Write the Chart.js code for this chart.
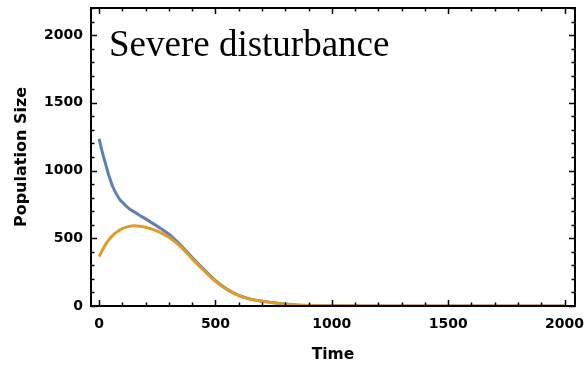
<!DOCTYPE html>
<html>
<head>
<meta charset="utf-8">
<script src="https://cdn.jsdelivr.net/npm/chart.js@4/dist/chart.umd.min.js"></script>
<style>
  body { margin: 0; background: #fff; }
  #wrap { width: 586px; height: 366px; }
</style>
</head>
<body>
<div id="wrap"><canvas id="chart" width="586" height="366"></canvas></div>
<script>
// values
const times = [0, 10, 20, 30, 40, 50, 60, 75, 90, 100, 125, 150, 175, 200, 250, 300, 350, 400, 450, 500, 550, 600, 650, 700, 750, 800, 850, 900, 1000, 1200, 1500, 2000]
const bluePop = [1235, 1160, 1095, 1035, 972, 922, 875, 824, 784, 766, 724, 695, 668, 643, 588, 530, 450, 358, 270, 188, 124, 78, 51, 36, 24, 14, 7, 3, 1, 0, 0, 0]
const orangePop = [365, 400, 432, 460, 485, 505, 523, 545, 562, 572, 586, 592, 589, 581, 553, 507, 438, 348, 262, 182, 120, 76, 50, 35, 23, 13, 6, 3, 1, 0, 0, 0]
const xTicks = [0, 500, 1000, 1500, 2000]
const yTicks = [0, 500, 1000, 1500, 2000]
const titleText = 'Severe disturbance'

const toPoints = (vals) => times.map((t, i) => ({ x: t, y: vals[i] }))

// frame with inward ticks, like the original plot
const frame = {
	id: 'frame',
	afterDatasetsDraw(chart) {
		const { ctx, chartArea: a, scales: { x, y } } = chart
		ctx.save()
		ctx.strokeStyle = '#000'
		ctx.lineWidth = 2
		ctx.strokeRect(a.left, a.top, a.right - a.left, a.bottom - a.top)
		ctx.lineWidth = 1.5
		ctx.beginPath()
		for (let t = 0; t <= 2000; t += 100) {
			const px = Math.round(x.getPixelForValue(t)) + 0.5
			const len = t % 500 === 0 ? 6 : 3.5
			ctx.moveTo(px, a.bottom); ctx.lineTo(px, a.bottom - len)
			ctx.moveTo(px, a.top); ctx.lineTo(px, a.top + len)
		}
		for (let v = 0; v <= 2200; v += 100) {
			const py = Math.round(y.getPixelForValue(v)) + 0.5
			const len = v % 500 === 0 ? 6 : 3.5
			ctx.moveTo(a.left, py); ctx.lineTo(a.left + len, py)
			ctx.moveTo(a.right, py); ctx.lineTo(a.right - len, py)
		}
		ctx.stroke()
		ctx.fillStyle = '#000'
		ctx.font = '37px "Liberation Serif"'
		ctx.textBaseline = 'alphabetic'
		ctx.fillText(titleText, 109, 56)
		ctx.restore()
	},
}

const tickFont = { family: 'DejaVu Sans', weight: 'bold', size: 14 }

new Chart(document.getElementById('chart'), {
	type: 'line',
	data: {
		datasets: [
			{
				label: 'blue',
				data: toPoints(bluePop),
				borderColor: '#5E81B5',
				borderWidth: 3,
				pointRadius: 0,
				cubicInterpolationMode: 'monotone',
				order: 1,
			},
			{
				label: 'orange',
				data: toPoints(orangePop),
				borderColor: '#E19C24',
				borderWidth: 3,
				pointRadius: 0,
				cubicInterpolationMode: 'monotone',
				order: 0,
			},
		],
	},
	options: {
		responsive: false,
		animation: false,
		layout: { padding: { top: 8, right: 11, left: 0, bottom: 0 } },
		plugins: { legend: { display: false }, tooltip: { enabled: false } },
		scales: {
			x: {
				type: 'linear',
				min: -35,
				max: 2045,
				grid: { display: false, drawTicks: false },
				border: { display: false },
				afterBuildTicks: (s) => { s.ticks = xTicks.map((v) => ({ value: v })) },
				afterFit: (s) => { s.height = 60; s.paddingLeft = 0; s.paddingRight = 0 },
				ticks: {
					padding: 10,
					color: '#000',
					maxRotation: 0,
					font: tickFont,
					callback: (v) => String(v),
				},
				title: {
					display: true,
					text: 'Time',
					color: '#000',
					padding: { top: 0, bottom: 2 },
					font: { family: 'DejaVu Sans', weight: 'bold', size: 15.5 },
				},
			},
			y: {
				type: 'linear',
				min: 0,
				max: 2200,
				grid: { display: false, drawTicks: false },
				border: { display: false },
				afterBuildTicks: (s) => { s.ticks = yTicks.map((v) => ({ value: v })) },
				afterFit: (s) => { s.width = 91; s.paddingTop = 0; s.paddingBottom = 0 },
				ticks: {
					padding: 8,
					color: '#000',
					font: tickFont,
					callback: (v) => String(v),
				},
				title: {
					display: true,
					text: 'Population Size',
					color: '#000',
					padding: { top: 12, bottom: 0 },
					font: { family: 'DejaVu Sans', weight: 'bold', size: 16 },
				},
			},
		},
	},
	plugins: [frame],
})
</script>
</body>
</html>
